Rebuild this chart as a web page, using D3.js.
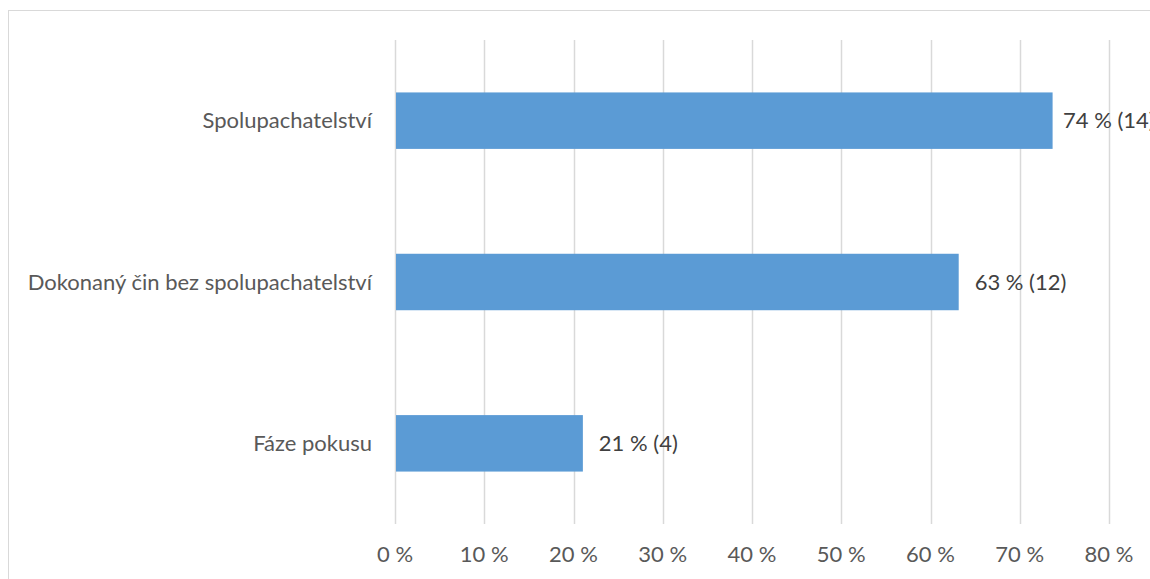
<!DOCTYPE html>
<html>
<head>
<meta charset="utf-8">
<script src="https://cdnjs.cloudflare.com/ajax/libs/d3/7.8.5/d3.min.js"></script>
<style>
  body { margin: 0; background: #fff; }
  svg text { font-family: Lato, "Open Sans", sans-serif; }
</style>
</head>
<body>
<div id="chart"></div>
<script>
var categories = ['Spolupachatelství', 'Dokonaný čin bez spolupachatelství', 'Fáze pokusu'];
var values = [73.68, 63.16, 21.05];
var labels = ['74 % (14)', '63 % (12)', '21 % (4)'];
var ticks = [0, 10, 20, 30, 40, 50, 60, 70, 80];

var width = 1150, height = 579;
var margin = {top: 40, right: 41, bottom: 55, left: 395};
var fontSize = '22px';

var svg = d3.select('#chart')
    .append('svg')
    .attr('width', width)
    .attr('height', height);

// chart frame (runs off the right and bottom edge)
svg.append('rect')
    .attr('x', 8.5)
    .attr('y', 10.5)
    .attr('width', 1200)
    .attr('height', 600)
    .attr('fill', 'none')
    .attr('stroke', '#d9d9d9')
    .attr('stroke-width', 1);

var x = d3.scaleLinear()
    .domain([0, 80])
    .range([margin.left, width - margin.right]);

var y = d3.scaleBand()
    .domain(categories)
    .range([margin.top, height - margin.bottom])
    .paddingInner(0.65)
    .paddingOuter(0.325);

// gridlines
svg.append('g')
    .selectAll('line')
    .data(ticks)
    .enter()
    .append('line')
    .attr('x1', d => Math.round(x(d)) + 0.5)
    .attr('x2', d => Math.round(x(d)) + 0.5)
    .attr('y1', margin.top)
    .attr('y2', height - margin.bottom)
    .attr('stroke', '#d9d9d9')
    .attr('stroke-width', 1.5);

// x tick labels
svg.append('g')
    .selectAll('text')
    .data(ticks)
    .enter()
    .append('text')
    .attr('x', d => x(d))
    .attr('y', 562)
    .attr('text-anchor', 'middle')
    .attr('fill', '#595959')
    .style('font-size', fontSize)
    .text(d => d + ' %');

// bars
svg.append('g')
    .selectAll('rect')
    .data(values)
    .enter()
    .append('rect')
    .attr('x', x(0) + 1)
    .attr('y', (d, i) => y(categories[i]))
    .attr('width', d => x(d) - x(0) - 1)
    .attr('height', y.bandwidth())
    .attr('fill', '#5b9bd5');

// data labels (the longest one gets nudged left, like in the original)
svg.append('g')
    .selectAll('text')
    .data(values)
    .enter()
    .append('text')
    .attr('x', d => Math.min(x(d) + 16, width - 87))
    .attr('y', (d, i) => y(categories[i]) + y.bandwidth() / 2)
    .attr('dy', '0.35em')
    .attr('fill', '#404040')
    .style('font-size', fontSize)
    .text((d, i) => labels[i]);

// category labels
svg.append('g')
    .selectAll('text')
    .data(categories)
    .enter()
    .append('text')
    .attr('x', x(0) - 23)
    .attr('y', d => y(d) + y.bandwidth() / 2)
    .attr('dy', '0.35em')
    .attr('text-anchor', 'end')
    .attr('fill', '#595959')
    .style('font-size', fontSize)
    .text(d => d);
</script>
</body>
</html>
